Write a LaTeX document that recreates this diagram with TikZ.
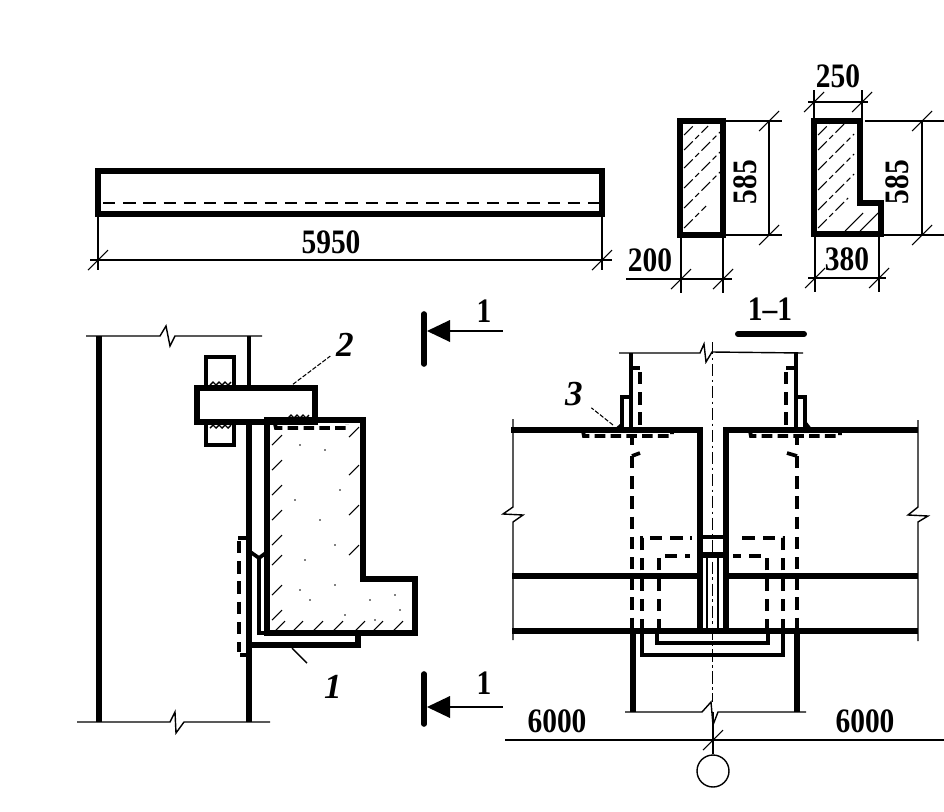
\documentclass[tikz,border=0pt]{standalone}
\usepackage{fontspec}
\setmainfont{Liberation Serif}
\newfontfamily\dimfont[FakeStretch=0.86]{Liberation Serif}
\usepackage{tikz}
\tikzstyle{heavy} = [line width=3.1pt,line join=miter]
\tikzstyle{medium} = [line width=2.1pt]
\tikzstyle{fine} = [line width=0.8pt]
\tikzstyle{hidden} = [line width=2.2pt,dash pattern=on 7pt off 4.5pt]
\tikzstyle{axis} = [line width=0.8pt,dash pattern=on 7pt off 2pt on 1.5pt off 2pt]
\tikzstyle{leader} = [line width=0.6pt,dash pattern=on 2.5pt off 1pt]
\tikzstyle{hatch} = [line width=0.6pt]
\tikzstyle{hatchlong} = [line width=0.6pt,dash pattern=on 7pt off 2pt on 3pt off 2pt]
\tikzstyle{dimlabel} = [font=\dimfont\fontsize{19.5}{19.5}\selectfont\bfseries,inner sep=0pt]
\tikzstyle{numlabel} = [font=\fontsize{20}{20}\selectfont\bfseries\itshape,inner sep=0pt]
\newcommand{\slashmark}[2]{\draw[hatch] (#1-10,#2+10) -- (#1+10,#2-10);}
\newcommand{\hatchmark}[2]{\draw[hatch] (#1-5,#2+5) -- (#1+5,#2-5);}
\newcommand{\weldmark}[3]{\draw[fine] (#1,#2) -- ++(3,-3) -- ++(3,3) -- ++(3,-3) -- ++(3,3) -- ++(3,-3) -- ++(3,3) -- ++(#3,-3);}

\begin{document}
\begin{tikzpicture}[x=0.02cm,y=-0.02cm]
	\useasboundingbox (0,0) rectangle (944,812);

	% beam elevation
	\draw[heavy] (98,171) rectangle (602,214);
	\draw[hidden,line width=1.7pt] (103,203) -- (600,203);
	\draw[fine] (98,214) -- (98,270);
	\draw[fine] (602,214) -- (602,270);
	\draw[fine] (90,260) -- (612,260);
	\slashmark{98}{260}
	\slashmark{602}{260}
	\node[dimlabel] (len) at (331,242) {5950};

	% section, plain beam
	\draw[heavy] (680,121) rectangle (723,235);
	\foreach \y/\l in {135/10,150/24,168/36,188/36,208/36,228/22}
	{
		\draw[hatchlong] (684,\y) -- (684+\l,\y-\l);
	}
	\draw[fine] (723,121) -- (782,121);
	\draw[fine] (723,235) -- (782,235);
	\draw[fine] (769,121) -- (769,235);
	\slashmark{769}{121}
	\slashmark{769}{235}
	\node[dimlabel,rotate=90] (hplain) at (745,182) {585};
	\draw[fine] (681,235) -- (681,293);
	\draw[fine] (723,235) -- (723,293);
	\draw[fine] (626,279) -- (732,279);
	\slashmark{681}{279}
	\slashmark{723}{279}
	\node[dimlabel] (wplain) at (650,260) {200};

	% section, ledge beam
	\draw[heavy] (814,121) -- (860,121) -- (860,203) -- (881,203) -- (881,234) -- (814,234) -- cycle;
	\foreach \y/\l in {135/12,150/26,170/36,190/36,210/36,228/30}
	{
		\draw[hatchlong] (818,\y) -- (818+\l,\y-\l);
	}
	\foreach \x in {845,860}
	{
		\draw[hatch] (\x,231) -- (\x+18,213);
	}
	\draw[fine] (814,121) -- (814,90);
	\draw[fine] (862,121) -- (862,90);
	\draw[fine] (808,102) -- (868,102);
	\slashmark{814}{102}
	\slashmark{862}{102}
	\node[dimlabel] (wtop) at (838,76) {250};
	\draw[fine] (865,121) -- (944,121);
	\draw[fine] (881,235) -- (944,235);
	\draw[fine] (922,121) -- (922,235);
	\slashmark{922}{121}
	\slashmark{922}{235}
	\node[dimlabel,rotate=90] (hledge) at (897,182) {585};
	\draw[fine] (815,235) -- (815,292);
	\draw[fine] (879,235) -- (879,292);
	\draw[fine] (808,278) -- (886,278);
	\slashmark{815}{278}
	\slashmark{879}{278}
	\node[dimlabel] (wbot) at (847,259) {380};

	% side view, walls
	\draw[fine] (86,336) -- (160,336) -- (166,326) -- (170,346) -- (175,336) -- (262,336);
	\draw[fine] (77,722) -- (170,722) -- (175,712) -- (176,733) -- (184,722) -- (270,722);
	\draw[heavy] (99,336) -- (99,722);
	\draw[medium] (249,336) -- (249,388);
	\draw[heavy] (249,422) -- (249,722);

	% side view, bracket and bolts
	\draw[heavy,line width=2.5pt] (206,388) -- (206,357) -- (234,357) -- (234,388);
	\draw[heavy,line width=2.5pt] (206,422) -- (206,445) -- (234,445) -- (234,422);
	\draw[heavy] (197,388) rectangle (315,422);
	\weldmark{210}{385}{3}
	\weldmark{210}{428}{3}
	\weldmark{288}{418}{3}

	% side view, beam
	\draw[heavy] (267,420) -- (363,420) -- (363,579) -- (415,579) -- (415,633) -- (267,633) -- cycle;
	\draw[hidden,dash pattern=on 6pt off 3pt] (275,424) -- (276,428) -- (347,428) -- (347,424);
	\foreach \y in {440,465,490,515,540,560,590,615}
	{
		\hatchmark{277}{\y}
	}
	\foreach \y in {432,470,510,550}
	{
		\hatchmark{354}{\y}
	}
	\foreach \x in {280,298,318,338,360,378,398}
	{
		\hatchmark{\x}{626}
	}
	\foreach \x/\y in {300/445,325/450,340/490,295/500,320/520,335/545,305/560,300/590,335/585,310/600,370/600,395/595,400/610,375/620,345/615}
	{
		\fill (\x,\y) circle (0.8);
	}
	\draw[medium] (249,551) -- (259,558) -- (267,552);
	\draw[medium] (259,558) -- (259,633) -- (267,633);
	\draw[heavy] (249,645) -- (358,645) -- (358,633);
	\draw[hidden] (239,541) -- (239,652);
	\draw[medium] (238,538) -- (249,538);
	\draw[medium] (240,655) -- (249,655);

	% side view, labels
	\coordinate (lead2a) at (288,388);
	\node[numlabel] (mark2) at (345,345) {2};
	\draw[leader,shorten >=4pt] (lead2a) -- (mark2);
	\coordinate (lead1a) at (292,648);
	\coordinate (lead1b) at (307,663);
	\draw[fine] (lead1a) -- (lead1b);
	\node[numlabel] (mark1) at (333,687) {1};

	% cutting marks
	\foreach \y/\t/\m/\l/\n in {331/314/364/311/cuta,707/674/724/683/cutb}
	{
		\draw[line width=3.2pt,line cap=round] (424,\t) -- (424,\m);
		\fill (427,\y) -- (450,\y-11) -- (450,\y+11) -- cycle;
		\draw[fine] (450,\y) -- (503,\y);
		\node[dimlabel] (\n) at (484,\l) {1};
	}
	\node[dimlabel] (cut) at (770,309) {1–1};
	\draw[line width=3.4pt,line cap=round] (738,334) -- (804,334);

	% section 1-1, columns
	\draw[fine] (619,353) -- (700,353) -- (704,344) -- (706,362) -- (712,352) -- (803,353);
	\draw[fine] (625,712) -- (702,712) -- (711,702) -- (713,725) -- (718,712) -- (806,712);
	\draw[medium] (631,353) -- (631,430);
	\draw[medium] (796,353) -- (796,430);
	\draw[heavy] (633,632) -- (633,712);
	\draw[heavy] (797,632) -- (797,712);

	% section 1-1, beams
	\draw[heavy] (511,430) -- (700,430) -- (700,632);
	\draw[heavy] (918,430) -- (726,430) -- (726,632);
	\draw[heavy] (512,576) -- (700,576);
	\draw[heavy] (726,576) -- (918,576);
	\draw[heavy] (512,631) -- (918,631);
	\draw[fine] (513,419) -- (513,507) -- (503,514) -- (523,515) -- (513,522) -- (513,640);
	\draw[fine] (918,420) -- (918,507) -- (908,515) -- (928,516) -- (918,522) -- (918,641);

	% section 1-1, hidden lines
	\draw[hidden] (632,456) -- (632,631);
	\draw[hidden] (797,456) -- (797,631);
	\draw[medium] (632,456) -- (640,453);
	\draw[medium] (797,456) -- (787,453);
	\draw[medium] (632,436) -- (632,445);
	\draw[medium] (797,436) -- (797,445);
	\draw[hidden] (640,372) -- (640,430);
	\draw[hidden] (786,372) -- (786,430);
	\draw[medium] (631,368) -- (640,368);
	\draw[medium] (796,368) -- (786,368);
	\draw[hidden,dash pattern=on 6pt off 3pt] (583,431) -- (584,436) -- (672,436) -- (672,431);
	\draw[hidden,dash pattern=on 6pt off 3pt] (750,431) -- (751,436) -- (840,436) -- (840,431);
	\draw[hidden] (642,631) -- (642,538) -- (692,538);
	\draw[hidden] (783,631) -- (783,538) -- (735,538);
	\draw[hidden] (659,631) -- (659,556) -- (690,556);
	\draw[hidden] (767,631) -- (767,556) -- (733,556);
	\draw[medium] (700,537) -- (726,537);
	\draw[heavy] (700,555) -- (726,555);
	\draw[line width=1.6pt] (707,555) -- (707,631);
	\draw[line width=1.6pt] (718,555) -- (718,631);

	% section 1-1, angles under the beam
	\draw[heavy,line width=2.6pt] (642,631) -- (642,655) -- (783,655) -- (783,631);
	\draw[heavy,line width=2.6pt] (657,631) -- (657,643) -- (768,643) -- (768,631);

	% section 1-1, side angles and welds
	\draw[medium] (622,430) -- (622,397) -- (631,397);
	\draw[medium] (805,430) -- (805,397) -- (796,397);
	\fill (613,430) -- (620,424) -- (622,430) -- cycle;
	\fill (813,430) -- (806,421) -- (805,430) -- cycle;
	\coordinate (lead3a) at (613,425);
	\node[numlabel] (mark3) at (574,394) {3};
	\draw[leader,shorten >=6pt] (lead3a) -- (mark3);

	% axis and bottom dimension
	\node[circle,draw,line width=0.8pt,minimum size=0.64cm,inner sep=0pt] (bubble) at (713,771) {};
	\draw[axis] (712.5,342) -- (712.5,702);
	\draw[fine] (713,712) -- (bubble.north);
	\draw[fine] (505,740) -- (944,740);
	\slashmark{713}{740}
	\node[dimlabel] (spanl) at (557,721) {6000};
	\node[dimlabel] (spanr) at (865,721) {6000};
\end{tikzpicture}
\end{document}
